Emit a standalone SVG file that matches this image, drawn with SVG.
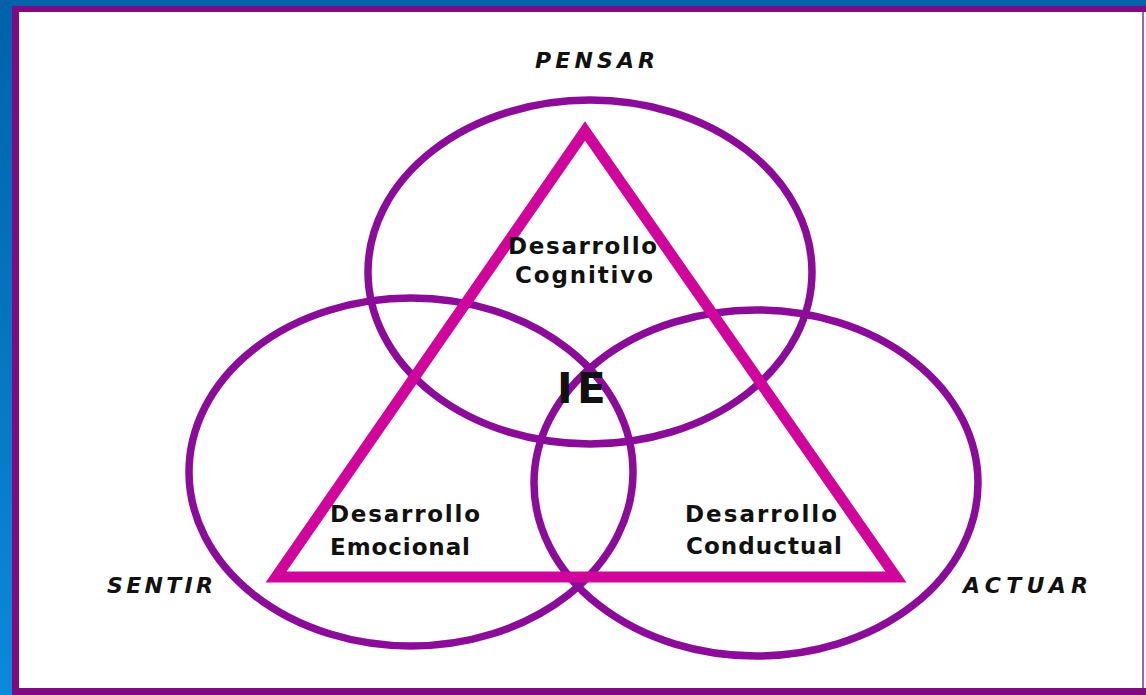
<svg xmlns="http://www.w3.org/2000/svg" width="1146" height="695" viewBox="0 0 1146 695">
  <defs>
    <linearGradient id="bg" x1="0" y1="0" x2="0" y2="1">
      <stop offset="0" stop-color="#0062aa"/>
      <stop offset="1" stop-color="#0a8ada"/>
    </linearGradient>
    <style>
      .ring { fill: none; stroke: #8a0c98; stroke-width: 7.5; }
      .tri { fill: none; stroke: #d0069c; stroke-width: 11; stroke-linejoin: miter; stroke-miterlimit: 10; }
      .corner { font-family: "DejaVu Sans", "Liberation Sans", sans-serif; font-weight: bold; font-style: italic; font-size: 22px; fill: #111; }
      .area { font-family: "DejaVu Sans", "Liberation Sans", sans-serif; font-weight: bold; font-size: 23px; fill: #111; }
      .ie { font-family: "DejaVu Sans", "Liberation Sans", sans-serif; font-weight: bold; font-size: 42px; fill: #111; }
    </style>
  </defs>

  <g id="background">
    <rect x="0" y="0" width="1146" height="695" fill="url(#bg)"/>
    <rect x="12" y="6" width="1134" height="689" fill="#800a82"/>
    <rect x="19" y="12" width="1127" height="676" fill="#ffffff"/>
    <line x1="1143" y1="12" x2="1143" y2="688" stroke="#8a2a9a" stroke-width="1.5"/>
  </g>

  <g id="node-pensar">
    <ellipse class="ring" cx="590" cy="272" rx="222" ry="172"/>
    <text class="corner" x="535" y="68" textLength="120" lengthAdjust="spacing">PENSAR</text>
  </g>

  <g id="node-sentir">
    <ellipse class="ring" cx="411" cy="472" rx="222" ry="174"/>
    <text class="corner" x="107" y="593" textLength="106" lengthAdjust="spacing">SENTIR</text>
  </g>

  <g id="node-actuar">
    <ellipse class="ring" cx="756" cy="483" rx="222" ry="173"/>
    <text class="corner" x="963" y="593" textLength="125" lengthAdjust="spacing">ACTUAR</text>
  </g>

  <g id="connectors">
    <polygon class="tri" points="585,131 276,577 896,577"/>
  </g>

  <g id="node-cognitivo">
    <text class="area" x="508" y="254" textLength="149" lengthAdjust="spacing">Desarrollo</text>
    <text class="area" x="515" y="283" textLength="138" lengthAdjust="spacing">Cognitivo</text>
  </g>

  <g id="node-emocional">
    <text class="area" x="330" y="522" textLength="150" lengthAdjust="spacing">Desarrollo</text>
    <text class="area" x="330" y="555" textLength="140" lengthAdjust="spacing">Emocional</text>
  </g>

  <g id="node-conductual">
    <text class="area" x="685" y="522" textLength="152" lengthAdjust="spacing">Desarrollo</text>
    <text class="area" x="686" y="554" textLength="156" lengthAdjust="spacing">Conductual</text>
  </g>

  <g id="node-ie">
    <text class="ie" x="557 577" y="403">IE</text>
  </g>
</svg>
